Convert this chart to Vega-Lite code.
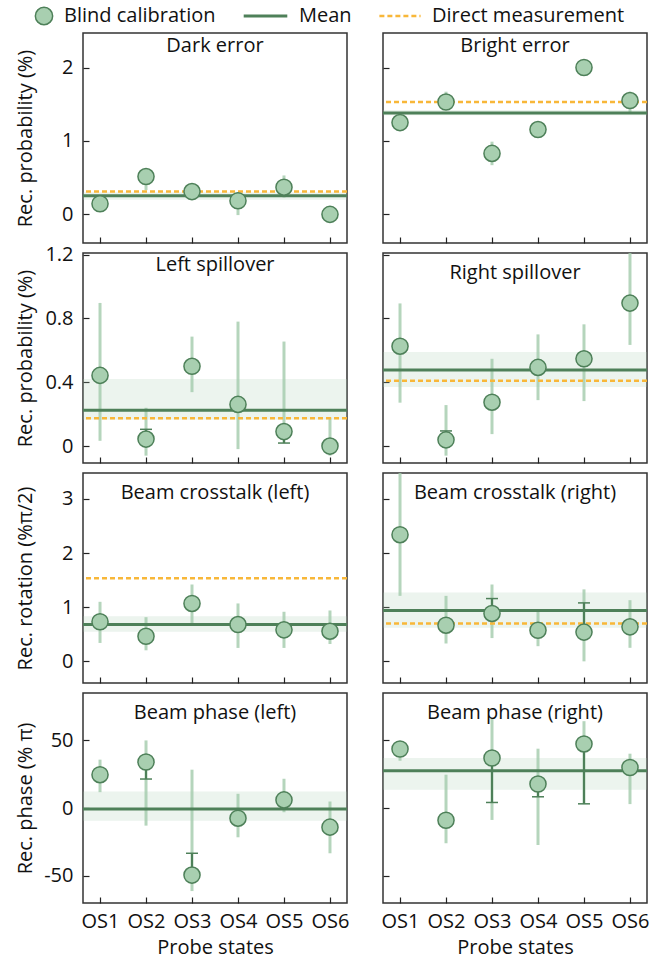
{
  "$schema": "https://vega.github.io/schema/vega-lite/v6.json",
  "padding": {"left": 14, "top": 4, "right": 1, "bottom": 0},
  "bounds": "flush",
  "config": {
    "font": "Open Sans",
    "view": {"stroke": "#333333", "strokeWidth": 1.5},
    "axis": {"domain": false, "grid": false, "tickColor": "#222222", "tickSize": -6, "tickWidth": 1.2, "labelFontSize": 20, "titleFontSize": 20, "titleFontWeight": "normal", "labelColor": "#111111", "titleColor": "#111111", "labelFont": "Open Sans", "titleFont": "Open Sans"},
    "title": {"fontSize": 20, "fontWeight": "normal", "font": "Open Sans", "offset": -30, "anchor": "middle", "color": "#111111"},
    "legend": {"labelFontSize": 20, "labelFont": "Open Sans", "labelColor": "#111111", "orient": "top", "title": null, "offset": 4, "labelOffset": 10, "padding": 0, "clipHeight": 24, "labelLimit": 320, "symbolOpacity": 1, "layout": {"top": {"anchor": "middle", "direction": "horizontal", "center": true, "margin": 26}}}
  },
  "datasets": {
    "pts": [
      {"p": "DE", "s": "OS1", "v": 0.145, "lo": 0.08, "hi": 0.2, "d": null},
      {"p": "DE", "s": "OS2", "v": 0.515, "lo": 0.33, "hi": 0.6, "d": null},
      {"p": "DE", "s": "OS3", "v": 0.31, "lo": 0.25, "hi": 0.37, "d": null},
      {"p": "DE", "s": "OS4", "v": 0.185, "lo": -0.01, "hi": 0.3, "d": null},
      {"p": "DE", "s": "OS5", "v": 0.37, "lo": 0.23, "hi": 0.53, "d": null},
      {"p": "DE", "s": "OS6", "v": 0.0, "lo": -0.05, "hi": 0.08, "d": null},
      {"p": "BE", "s": "OS1", "v": 1.25, "lo": 1.15, "hi": 1.35, "d": null},
      {"p": "BE", "s": "OS2", "v": 1.53, "lo": 1.45, "hi": 1.67, "d": null},
      {"p": "BE", "s": "OS3", "v": 0.83, "lo": 0.67, "hi": 0.99, "d": null},
      {"p": "BE", "s": "OS4", "v": 1.155, "lo": 1.08, "hi": 1.23, "d": null},
      {"p": "BE", "s": "OS5", "v": 2.0, "lo": 1.93, "hi": 2.07, "d": null},
      {"p": "BE", "s": "OS6", "v": 1.55, "lo": 1.38, "hi": 1.67, "d": null},
      {"p": "LS", "s": "OS1", "v": 0.443, "lo": 0.033, "hi": 0.897, "d": null},
      {"p": "LS", "s": "OS2", "v": 0.044, "lo": -0.06, "hi": 0.24, "d": 0.105},
      {"p": "LS", "s": "OS3", "v": 0.5, "lo": 0.338, "hi": 0.686, "d": null},
      {"p": "LS", "s": "OS4", "v": 0.261, "lo": -0.019, "hi": 0.78, "d": null},
      {"p": "LS", "s": "OS5", "v": 0.091, "lo": 0.019, "hi": 0.655, "d": 0.019},
      {"p": "LS", "s": "OS6", "v": 0.0, "lo": -0.06, "hi": 0.18, "d": null},
      {"p": "RS", "s": "OS1", "v": 0.626, "lo": 0.272, "hi": 0.894, "d": null},
      {"p": "RS", "s": "OS2", "v": 0.039, "lo": -0.06, "hi": 0.257, "d": 0.095},
      {"p": "RS", "s": "OS3", "v": 0.275, "lo": 0.075, "hi": 0.547, "d": null},
      {"p": "RS", "s": "OS4", "v": 0.493, "lo": 0.288, "hi": 0.7, "d": null},
      {"p": "RS", "s": "OS5", "v": 0.547, "lo": 0.282, "hi": 0.763, "d": null},
      {"p": "RS", "s": "OS6", "v": 0.896, "lo": 0.634, "hi": 1.3, "d": null},
      {"p": "CL", "s": "OS1", "v": 0.731, "lo": 0.34, "hi": 1.1, "d": null},
      {"p": "CL", "s": "OS2", "v": 0.464, "lo": 0.204, "hi": 0.816, "d": null},
      {"p": "CL", "s": "OS3", "v": 1.07, "lo": 0.66, "hi": 1.42, "d": null},
      {"p": "CL", "s": "OS4", "v": 0.68, "lo": 0.248, "hi": 1.07, "d": null},
      {"p": "CL", "s": "OS5", "v": 0.582, "lo": 0.248, "hi": 0.916, "d": null},
      {"p": "CL", "s": "OS6", "v": 0.557, "lo": 0.32, "hi": 0.94, "d": null},
      {"p": "CR", "s": "OS1", "v": 2.34, "lo": 1.21, "hi": 3.6, "d": null},
      {"p": "CR", "s": "OS2", "v": 0.668, "lo": 0.33, "hi": 1.21, "d": null},
      {"p": "CR", "s": "OS3", "v": 0.885, "lo": 0.43, "hi": 1.42, "d": 1.16},
      {"p": "CR", "s": "OS4", "v": 0.575, "lo": 0.28, "hi": 0.928, "d": null},
      {"p": "CR", "s": "OS5", "v": 0.54, "lo": 0.0, "hi": 1.33, "d": 1.08},
      {"p": "CR", "s": "OS6", "v": 0.638, "lo": 0.25, "hi": 1.13, "d": null},
      {"p": "PL", "s": "OS1", "v": 24.7, "lo": 11.8, "hi": 35.8, "d": null},
      {"p": "PL", "s": "OS2", "v": 34.1, "lo": -12.9, "hi": 50, "d": 21.5},
      {"p": "PL", "s": "OS3", "v": -49.4, "lo": -61.2, "hi": 28.4, "d": -33.3},
      {"p": "PL", "s": "OS4", "v": -7.4, "lo": -21.5, "hi": 10.6, "d": null},
      {"p": "PL", "s": "OS5", "v": 6.1, "lo": -3, "hi": 21.7, "d": null},
      {"p": "PL", "s": "OS6", "v": -14, "lo": -33.3, "hi": 4.9, "d": null},
      {"p": "PR", "s": "OS1", "v": 43.7, "lo": 35, "hi": 49.3, "d": null},
      {"p": "PR", "s": "OS2", "v": -8.9, "lo": -25.9, "hi": 24.7, "d": null},
      {"p": "PR", "s": "OS3", "v": 37, "lo": -8.7, "hi": 66.7, "d": 4.2},
      {"p": "PR", "s": "OS4", "v": 17.8, "lo": -27.2, "hi": 43.9, "d": 8.4},
      {"p": "PR", "s": "OS5", "v": 47.4, "lo": 3, "hi": 64.2, "d": 3.2},
      {"p": "PR", "s": "OS6", "v": 30, "lo": 3, "hi": 40.2, "d": null}
    ],
    "lines": [
      {"p": "DE", "mean": 0.255, "blo": 0.2, "bhi": 0.3, "direct": 0.31},
      {"p": "BE", "mean": 1.38, "blo": 1.35, "bhi": 1.42, "direct": 1.53},
      {"p": "LS", "mean": 0.224, "blo": 0.165, "bhi": 0.421, "direct": 0.174},
      {"p": "RS", "mean": 0.477, "blo": 0.37, "bhi": 0.589, "direct": 0.41},
      {"p": "CL", "mean": 0.68, "blo": 0.545, "bhi": 0.835, "direct": 1.535},
      {"p": "CR", "mean": 0.94, "blo": 0.62, "bhi": 1.27, "direct": 0.7},
      {"p": "PL", "mean": -0.7, "blo": -9.2, "bhi": 12.3, "direct": null},
      {"p": "PR", "mean": 27.6, "blo": 13.6, "bhi": 37, "direct": null}
    ]
  },
  "columns": 2,
  "spacing": {"row": 10, "column": 36},
  "resolve": {"scale": {"x": "independent", "y": "independent", "fill": "shared", "stroke": "shared", "strokeDash": "shared"}},
  "concat": [
    {
      "title": {"text": "Dark error", "offset": -22.5}, "width": 264, "height": 210,
      "layer": [
        {"data": {"name": "lines"}, "transform": [{"filter": "datum.p == 'DE'"}], "mark": {"type": "rect", "opacity": 0.22}, "encoding": {"y": {"field": "blo", "type": "quantitative", "scale": {"domain": [-0.39, 2.47], "nice": false, "zero": false}, "axis": {"values": [0, 1, 2], "labelExpr": "'' + datum.value", "labelPadding": 16, "minExtent": 40, "maxExtent": 40, "title": "Rec. probability (%)", "titlePadding": 8}}, "y2": {"field": "bhi"}, "fill": {"datum": "Blind calibration", "type": "nominal", "scale": {"domain": ["Blind calibration"], "range": ["#a8cfb0"]}, "legend": {"symbolType": "circle", "symbolStrokeColor": "#4e8059", "symbolStrokeWidth": 1.5, "symbolSize": 300, "symbolOpacity": 1}}}},
        {"data": {"name": "pts"}, "transform": [{"filter": "datum.p == 'DE'"}], "mark": {"type": "rule", "color": "#a3cbab", "strokeWidth": 3, "opacity": 0.8, "clip": true}, "encoding": {"x": {"field": "s", "type": "ordinal", "scale": {"type": "point", "padding": 0.37}, "axis": {"labels": false, "title": null}}, "y": {"field": "lo", "type": "quantitative", "scale": {"domain": [-0.39, 2.47], "nice": false, "zero": false}, "axis": {"values": [0, 1, 2], "labelExpr": "'' + datum.value", "labelPadding": 16, "minExtent": 40, "maxExtent": 40, "title": "Rec. probability (%)", "titlePadding": 8}}, "y2": {"field": "hi"}}},
        {"data": {"name": "lines"}, "transform": [{"filter": "datum.p == 'DE'"}], "mark": {"type": "rule", "strokeWidth": 3}, "encoding": {"y": {"field": "mean", "type": "quantitative", "scale": {"domain": [-0.39, 2.47], "nice": false, "zero": false}, "axis": {"values": [0, 1, 2], "labelExpr": "'' + datum.value", "labelPadding": 16, "minExtent": 40, "maxExtent": 40, "title": "Rec. probability (%)", "titlePadding": 8}}, "stroke": {"datum": "Mean", "type": "nominal", "scale": {"domain": ["Mean"], "range": ["#4e8059"]}, "legend": {"symbolType": "stroke", "symbolStrokeWidth": 3, "symbolSize": 1900}}}},
        {"data": {"name": "lines"}, "transform": [{"filter": "datum.p == 'DE'"}], "mark": {"type": "rule", "color": "#f8b739", "strokeWidth": 2.5}, "encoding": {"y": {"field": "direct", "type": "quantitative", "scale": {"domain": [-0.39, 2.47], "nice": false, "zero": false}, "axis": {"values": [0, 1, 2], "labelExpr": "'' + datum.value", "labelPadding": 16, "minExtent": 40, "maxExtent": 40, "title": "Rec. probability (%)", "titlePadding": 8}}, "strokeDash": {"datum": "Direct  measurement", "type": "nominal", "scale": {"domain": ["Direct  measurement"], "range": [[5, 3]]}, "legend": {"symbolType": "stroke", "symbolStrokeColor": "#f8b739", "symbolStrokeWidth": 2.5, "symbolSize": 1700}}}},
        {"data": {"name": "pts"}, "transform": [{"filter": "datum.p == 'DE'"}], "mark": {"type": "circle", "size": 260, "stroke": "#4e8059", "strokeWidth": 1.5, "opacity": 1}, "encoding": {"x": {"field": "s", "type": "ordinal", "scale": {"type": "point", "padding": 0.37}, "axis": {"labels": false, "title": null}}, "y": {"field": "v", "type": "quantitative", "scale": {"domain": [-0.39, 2.47], "nice": false, "zero": false}, "axis": {"values": [0, 1, 2], "labelExpr": "'' + datum.value", "labelPadding": 16, "minExtent": 40, "maxExtent": 40, "title": "Rec. probability (%)", "titlePadding": 8}}, "fill": {"datum": "Blind calibration", "type": "nominal", "scale": {"domain": ["Blind calibration"], "range": ["#a8cfb0"]}, "legend": {"symbolType": "circle", "symbolStrokeColor": "#4e8059", "symbolStrokeWidth": 1.5, "symbolSize": 300, "symbolOpacity": 1}}}}
      ]
    },
    {
      "title": {"text": "Bright error", "offset": -22.5}, "width": 264, "height": 210,
      "layer": [
        {"data": {"name": "lines"}, "transform": [{"filter": "datum.p == 'BE'"}], "mark": {"type": "rect", "opacity": 0.22}, "encoding": {"y": {"field": "blo", "type": "quantitative", "scale": {"domain": [-0.39, 2.47], "nice": false, "zero": false}, "axis": {"values": [0, 1, 2], "labels": false, "title": null}}, "y2": {"field": "bhi"}, "fill": {"datum": "Blind calibration", "type": "nominal", "scale": {"domain": ["Blind calibration"], "range": ["#a8cfb0"]}, "legend": {"symbolType": "circle", "symbolStrokeColor": "#4e8059", "symbolStrokeWidth": 1.5, "symbolSize": 300, "symbolOpacity": 1}}}},
        {"data": {"name": "pts"}, "transform": [{"filter": "datum.p == 'BE'"}], "mark": {"type": "rule", "color": "#a3cbab", "strokeWidth": 3, "opacity": 0.8, "clip": true}, "encoding": {"x": {"field": "s", "type": "ordinal", "scale": {"type": "point", "padding": 0.37}, "axis": {"labels": false, "title": null}}, "y": {"field": "lo", "type": "quantitative", "scale": {"domain": [-0.39, 2.47], "nice": false, "zero": false}, "axis": {"values": [0, 1, 2], "labels": false, "title": null}}, "y2": {"field": "hi"}}},
        {"data": {"name": "lines"}, "transform": [{"filter": "datum.p == 'BE'"}], "mark": {"type": "rule", "strokeWidth": 3}, "encoding": {"y": {"field": "mean", "type": "quantitative", "scale": {"domain": [-0.39, 2.47], "nice": false, "zero": false}, "axis": {"values": [0, 1, 2], "labels": false, "title": null}}, "stroke": {"datum": "Mean", "type": "nominal", "scale": {"domain": ["Mean"], "range": ["#4e8059"]}, "legend": {"symbolType": "stroke", "symbolStrokeWidth": 3, "symbolSize": 1900}}}},
        {"data": {"name": "lines"}, "transform": [{"filter": "datum.p == 'BE'"}], "mark": {"type": "rule", "color": "#f8b739", "strokeWidth": 2.5}, "encoding": {"y": {"field": "direct", "type": "quantitative", "scale": {"domain": [-0.39, 2.47], "nice": false, "zero": false}, "axis": {"values": [0, 1, 2], "labels": false, "title": null}}, "strokeDash": {"datum": "Direct  measurement", "type": "nominal", "scale": {"domain": ["Direct  measurement"], "range": [[5, 3]]}, "legend": {"symbolType": "stroke", "symbolStrokeColor": "#f8b739", "symbolStrokeWidth": 2.5, "symbolSize": 1700}}}},
        {"data": {"name": "pts"}, "transform": [{"filter": "datum.p == 'BE'"}], "mark": {"type": "circle", "size": 260, "stroke": "#4e8059", "strokeWidth": 1.5, "opacity": 1}, "encoding": {"x": {"field": "s", "type": "ordinal", "scale": {"type": "point", "padding": 0.37}, "axis": {"labels": false, "title": null}}, "y": {"field": "v", "type": "quantitative", "scale": {"domain": [-0.39, 2.47], "nice": false, "zero": false}, "axis": {"values": [0, 1, 2], "labels": false, "title": null}}, "fill": {"datum": "Blind calibration", "type": "nominal", "scale": {"domain": ["Blind calibration"], "range": ["#a8cfb0"]}, "legend": {"symbolType": "circle", "symbolStrokeColor": "#4e8059", "symbolStrokeWidth": 1.5, "symbolSize": 300, "symbolOpacity": 1}}}}
      ]
    },
    {
      "title": {"text": "Left spillover", "offset": -30}, "width": 264, "height": 210,
      "layer": [
        {"data": {"name": "lines"}, "transform": [{"filter": "datum.p == 'LS'"}], "mark": {"type": "rect", "opacity": 0.22}, "encoding": {"y": {"field": "blo", "type": "quantitative", "scale": {"domain": [-0.106, 1.21], "nice": false, "zero": false}, "axis": {"values": [0, 0.4, 0.8, 1.2], "labelExpr": "'' + datum.value", "labelPadding": 16, "minExtent": 40, "maxExtent": 40, "title": "Rec. probability (%)", "titlePadding": 8}}, "y2": {"field": "bhi"}, "fill": {"datum": "Blind calibration", "type": "nominal", "scale": {"domain": ["Blind calibration"], "range": ["#a8cfb0"]}, "legend": {"symbolType": "circle", "symbolStrokeColor": "#4e8059", "symbolStrokeWidth": 1.5, "symbolSize": 300, "symbolOpacity": 1}}}},
        {"data": {"name": "pts"}, "transform": [{"filter": "datum.p == 'LS'"}], "mark": {"type": "rule", "color": "#a3cbab", "strokeWidth": 3, "opacity": 0.8, "clip": true}, "encoding": {"x": {"field": "s", "type": "ordinal", "scale": {"type": "point", "padding": 0.37}, "axis": {"labels": false, "title": null}}, "y": {"field": "lo", "type": "quantitative", "scale": {"domain": [-0.106, 1.21], "nice": false, "zero": false}, "axis": {"values": [0, 0.4, 0.8, 1.2], "labelExpr": "'' + datum.value", "labelPadding": 16, "minExtent": 40, "maxExtent": 40, "title": "Rec. probability (%)", "titlePadding": 8}}, "y2": {"field": "hi"}}},
        {"data": {"name": "lines"}, "transform": [{"filter": "datum.p == 'LS'"}], "mark": {"type": "rule", "strokeWidth": 3}, "encoding": {"y": {"field": "mean", "type": "quantitative", "scale": {"domain": [-0.106, 1.21], "nice": false, "zero": false}, "axis": {"values": [0, 0.4, 0.8, 1.2], "labelExpr": "'' + datum.value", "labelPadding": 16, "minExtent": 40, "maxExtent": 40, "title": "Rec. probability (%)", "titlePadding": 8}}, "stroke": {"datum": "Mean", "type": "nominal", "scale": {"domain": ["Mean"], "range": ["#4e8059"]}, "legend": {"symbolType": "stroke", "symbolStrokeWidth": 3, "symbolSize": 1900}}}},
        {"data": {"name": "lines"}, "transform": [{"filter": "datum.p == 'LS'"}], "mark": {"type": "rule", "color": "#f8b739", "strokeWidth": 2.5}, "encoding": {"y": {"field": "direct", "type": "quantitative", "scale": {"domain": [-0.106, 1.21], "nice": false, "zero": false}, "axis": {"values": [0, 0.4, 0.8, 1.2], "labelExpr": "'' + datum.value", "labelPadding": 16, "minExtent": 40, "maxExtent": 40, "title": "Rec. probability (%)", "titlePadding": 8}}, "strokeDash": {"datum": "Direct  measurement", "type": "nominal", "scale": {"domain": ["Direct  measurement"], "range": [[5, 3]]}, "legend": {"symbolType": "stroke", "symbolStrokeColor": "#f8b739", "symbolStrokeWidth": 2.5, "symbolSize": 1700}}}},
        {"data": {"name": "pts"}, "transform": [{"filter": "datum.p == 'LS' && datum.d != null"}], "mark": {"type": "rule", "color": "#4e8059", "strokeWidth": 2}, "encoding": {"x": {"field": "s", "type": "ordinal", "scale": {"type": "point", "padding": 0.37}, "axis": {"labels": false, "title": null}}, "y": {"field": "v", "type": "quantitative", "scale": {"domain": [-0.106, 1.21], "nice": false, "zero": false}, "axis": {"values": [0, 0.4, 0.8, 1.2], "labelExpr": "'' + datum.value", "labelPadding": 16, "minExtent": 40, "maxExtent": 40, "title": "Rec. probability (%)", "titlePadding": 8}}, "y2": {"field": "d"}}},
        {"data": {"name": "pts"}, "transform": [{"filter": "datum.p == 'LS' && datum.d != null"}], "mark": {"type": "tick", "color": "#4e8059", "thickness": 1.5, "size": 12, "opacity": 1}, "encoding": {"x": {"field": "s", "type": "ordinal", "scale": {"type": "point", "padding": 0.37}, "axis": {"labels": false, "title": null}}, "y": {"field": "d", "type": "quantitative", "scale": {"domain": [-0.106, 1.21], "nice": false, "zero": false}, "axis": {"values": [0, 0.4, 0.8, 1.2], "labelExpr": "'' + datum.value", "labelPadding": 16, "minExtent": 40, "maxExtent": 40, "title": "Rec. probability (%)", "titlePadding": 8}}}},
        {"data": {"name": "pts"}, "transform": [{"filter": "datum.p == 'LS'"}], "mark": {"type": "circle", "size": 260, "stroke": "#4e8059", "strokeWidth": 1.5, "opacity": 1}, "encoding": {"x": {"field": "s", "type": "ordinal", "scale": {"type": "point", "padding": 0.37}, "axis": {"labels": false, "title": null}}, "y": {"field": "v", "type": "quantitative", "scale": {"domain": [-0.106, 1.21], "nice": false, "zero": false}, "axis": {"values": [0, 0.4, 0.8, 1.2], "labelExpr": "'' + datum.value", "labelPadding": 16, "minExtent": 40, "maxExtent": 40, "title": "Rec. probability (%)", "titlePadding": 8}}, "fill": {"datum": "Blind calibration", "type": "nominal", "scale": {"domain": ["Blind calibration"], "range": ["#a8cfb0"]}, "legend": {"symbolType": "circle", "symbolStrokeColor": "#4e8059", "symbolStrokeWidth": 1.5, "symbolSize": 300, "symbolOpacity": 1}}}}
      ]
    },
    {
      "title": {"text": "Right spillover", "offset": -30}, "width": 264, "height": 210,
      "layer": [
        {"data": {"name": "lines"}, "transform": [{"filter": "datum.p == 'RS'"}], "mark": {"type": "rect", "opacity": 0.22}, "encoding": {"y": {"field": "blo", "type": "quantitative", "scale": {"domain": [-0.106, 1.21], "nice": false, "zero": false}, "axis": {"values": [0, 0.4, 0.8, 1.2], "labels": false, "title": null}}, "y2": {"field": "bhi"}, "fill": {"datum": "Blind calibration", "type": "nominal", "scale": {"domain": ["Blind calibration"], "range": ["#a8cfb0"]}, "legend": {"symbolType": "circle", "symbolStrokeColor": "#4e8059", "symbolStrokeWidth": 1.5, "symbolSize": 300, "symbolOpacity": 1}}}},
        {"data": {"name": "pts"}, "transform": [{"filter": "datum.p == 'RS'"}], "mark": {"type": "rule", "color": "#a3cbab", "strokeWidth": 3, "opacity": 0.8, "clip": true}, "encoding": {"x": {"field": "s", "type": "ordinal", "scale": {"type": "point", "padding": 0.37}, "axis": {"labels": false, "title": null}}, "y": {"field": "lo", "type": "quantitative", "scale": {"domain": [-0.106, 1.21], "nice": false, "zero": false}, "axis": {"values": [0, 0.4, 0.8, 1.2], "labels": false, "title": null}}, "y2": {"field": "hi"}}},
        {"data": {"name": "lines"}, "transform": [{"filter": "datum.p == 'RS'"}], "mark": {"type": "rule", "strokeWidth": 3}, "encoding": {"y": {"field": "mean", "type": "quantitative", "scale": {"domain": [-0.106, 1.21], "nice": false, "zero": false}, "axis": {"values": [0, 0.4, 0.8, 1.2], "labels": false, "title": null}}, "stroke": {"datum": "Mean", "type": "nominal", "scale": {"domain": ["Mean"], "range": ["#4e8059"]}, "legend": {"symbolType": "stroke", "symbolStrokeWidth": 3, "symbolSize": 1900}}}},
        {"data": {"name": "lines"}, "transform": [{"filter": "datum.p == 'RS'"}], "mark": {"type": "rule", "color": "#f8b739", "strokeWidth": 2.5}, "encoding": {"y": {"field": "direct", "type": "quantitative", "scale": {"domain": [-0.106, 1.21], "nice": false, "zero": false}, "axis": {"values": [0, 0.4, 0.8, 1.2], "labels": false, "title": null}}, "strokeDash": {"datum": "Direct  measurement", "type": "nominal", "scale": {"domain": ["Direct  measurement"], "range": [[5, 3]]}, "legend": {"symbolType": "stroke", "symbolStrokeColor": "#f8b739", "symbolStrokeWidth": 2.5, "symbolSize": 1700}}}},
        {"data": {"name": "pts"}, "transform": [{"filter": "datum.p == 'RS' && datum.d != null"}], "mark": {"type": "rule", "color": "#4e8059", "strokeWidth": 2}, "encoding": {"x": {"field": "s", "type": "ordinal", "scale": {"type": "point", "padding": 0.37}, "axis": {"labels": false, "title": null}}, "y": {"field": "v", "type": "quantitative", "scale": {"domain": [-0.106, 1.21], "nice": false, "zero": false}, "axis": {"values": [0, 0.4, 0.8, 1.2], "labels": false, "title": null}}, "y2": {"field": "d"}}},
        {"data": {"name": "pts"}, "transform": [{"filter": "datum.p == 'RS' && datum.d != null"}], "mark": {"type": "tick", "color": "#4e8059", "thickness": 1.5, "size": 12, "opacity": 1}, "encoding": {"x": {"field": "s", "type": "ordinal", "scale": {"type": "point", "padding": 0.37}, "axis": {"labels": false, "title": null}}, "y": {"field": "d", "type": "quantitative", "scale": {"domain": [-0.106, 1.21], "nice": false, "zero": false}, "axis": {"values": [0, 0.4, 0.8, 1.2], "labels": false, "title": null}}}},
        {"data": {"name": "pts"}, "transform": [{"filter": "datum.p == 'RS'"}], "mark": {"type": "circle", "size": 260, "stroke": "#4e8059", "strokeWidth": 1.5, "opacity": 1}, "encoding": {"x": {"field": "s", "type": "ordinal", "scale": {"type": "point", "padding": 0.37}, "axis": {"labels": false, "title": null}}, "y": {"field": "v", "type": "quantitative", "scale": {"domain": [-0.106, 1.21], "nice": false, "zero": false}, "axis": {"values": [0, 0.4, 0.8, 1.2], "labels": false, "title": null}}, "fill": {"datum": "Blind calibration", "type": "nominal", "scale": {"domain": ["Blind calibration"], "range": ["#a8cfb0"]}, "legend": {"symbolType": "circle", "symbolStrokeColor": "#4e8059", "symbolStrokeWidth": 1.5, "symbolSize": 300, "symbolOpacity": 1}}}}
      ]
    },
    {
      "title": {"text": "Beam crosstalk (left)", "offset": -30}, "width": 264, "height": 210,
      "layer": [
        {"data": {"name": "lines"}, "transform": [{"filter": "datum.p == 'CL'"}], "mark": {"type": "rect", "opacity": 0.22}, "encoding": {"y": {"field": "blo", "type": "quantitative", "scale": {"domain": [-0.4, 3.48], "nice": false, "zero": false}, "axis": {"values": [0, 1, 2, 3], "labelExpr": "'' + datum.value", "labelPadding": 16, "minExtent": 40, "maxExtent": 40, "title": "Rec. rotation (%π/2)", "titlePadding": 8}}, "y2": {"field": "bhi"}, "fill": {"datum": "Blind calibration", "type": "nominal", "scale": {"domain": ["Blind calibration"], "range": ["#a8cfb0"]}, "legend": {"symbolType": "circle", "symbolStrokeColor": "#4e8059", "symbolStrokeWidth": 1.5, "symbolSize": 300, "symbolOpacity": 1}}}},
        {"data": {"name": "pts"}, "transform": [{"filter": "datum.p == 'CL'"}], "mark": {"type": "rule", "color": "#a3cbab", "strokeWidth": 3, "opacity": 0.8, "clip": true}, "encoding": {"x": {"field": "s", "type": "ordinal", "scale": {"type": "point", "padding": 0.37}, "axis": {"labels": false, "title": null}}, "y": {"field": "lo", "type": "quantitative", "scale": {"domain": [-0.4, 3.48], "nice": false, "zero": false}, "axis": {"values": [0, 1, 2, 3], "labelExpr": "'' + datum.value", "labelPadding": 16, "minExtent": 40, "maxExtent": 40, "title": "Rec. rotation (%π/2)", "titlePadding": 8}}, "y2": {"field": "hi"}}},
        {"data": {"name": "lines"}, "transform": [{"filter": "datum.p == 'CL'"}], "mark": {"type": "rule", "strokeWidth": 3}, "encoding": {"y": {"field": "mean", "type": "quantitative", "scale": {"domain": [-0.4, 3.48], "nice": false, "zero": false}, "axis": {"values": [0, 1, 2, 3], "labelExpr": "'' + datum.value", "labelPadding": 16, "minExtent": 40, "maxExtent": 40, "title": "Rec. rotation (%π/2)", "titlePadding": 8}}, "stroke": {"datum": "Mean", "type": "nominal", "scale": {"domain": ["Mean"], "range": ["#4e8059"]}, "legend": {"symbolType": "stroke", "symbolStrokeWidth": 3, "symbolSize": 1900}}}},
        {"data": {"name": "lines"}, "transform": [{"filter": "datum.p == 'CL'"}], "mark": {"type": "rule", "color": "#f8b739", "strokeWidth": 2.5}, "encoding": {"y": {"field": "direct", "type": "quantitative", "scale": {"domain": [-0.4, 3.48], "nice": false, "zero": false}, "axis": {"values": [0, 1, 2, 3], "labelExpr": "'' + datum.value", "labelPadding": 16, "minExtent": 40, "maxExtent": 40, "title": "Rec. rotation (%π/2)", "titlePadding": 8}}, "strokeDash": {"datum": "Direct  measurement", "type": "nominal", "scale": {"domain": ["Direct  measurement"], "range": [[5, 3]]}, "legend": {"symbolType": "stroke", "symbolStrokeColor": "#f8b739", "symbolStrokeWidth": 2.5, "symbolSize": 1700}}}},
        {"data": {"name": "pts"}, "transform": [{"filter": "datum.p == 'CL'"}], "mark": {"type": "circle", "size": 260, "stroke": "#4e8059", "strokeWidth": 1.5, "opacity": 1}, "encoding": {"x": {"field": "s", "type": "ordinal", "scale": {"type": "point", "padding": 0.37}, "axis": {"labels": false, "title": null}}, "y": {"field": "v", "type": "quantitative", "scale": {"domain": [-0.4, 3.48], "nice": false, "zero": false}, "axis": {"values": [0, 1, 2, 3], "labelExpr": "'' + datum.value", "labelPadding": 16, "minExtent": 40, "maxExtent": 40, "title": "Rec. rotation (%π/2)", "titlePadding": 8}}, "fill": {"datum": "Blind calibration", "type": "nominal", "scale": {"domain": ["Blind calibration"], "range": ["#a8cfb0"]}, "legend": {"symbolType": "circle", "symbolStrokeColor": "#4e8059", "symbolStrokeWidth": 1.5, "symbolSize": 300, "symbolOpacity": 1}}}}
      ]
    },
    {
      "title": {"text": "Beam crosstalk (right)", "offset": -30}, "width": 264, "height": 210,
      "layer": [
        {"data": {"name": "lines"}, "transform": [{"filter": "datum.p == 'CR'"}], "mark": {"type": "rect", "opacity": 0.22}, "encoding": {"y": {"field": "blo", "type": "quantitative", "scale": {"domain": [-0.4, 3.48], "nice": false, "zero": false}, "axis": {"values": [0, 1, 2, 3], "labels": false, "title": null}}, "y2": {"field": "bhi"}, "fill": {"datum": "Blind calibration", "type": "nominal", "scale": {"domain": ["Blind calibration"], "range": ["#a8cfb0"]}, "legend": {"symbolType": "circle", "symbolStrokeColor": "#4e8059", "symbolStrokeWidth": 1.5, "symbolSize": 300, "symbolOpacity": 1}}}},
        {"data": {"name": "pts"}, "transform": [{"filter": "datum.p == 'CR'"}], "mark": {"type": "rule", "color": "#a3cbab", "strokeWidth": 3, "opacity": 0.8, "clip": true}, "encoding": {"x": {"field": "s", "type": "ordinal", "scale": {"type": "point", "padding": 0.37}, "axis": {"labels": false, "title": null}}, "y": {"field": "lo", "type": "quantitative", "scale": {"domain": [-0.4, 3.48], "nice": false, "zero": false}, "axis": {"values": [0, 1, 2, 3], "labels": false, "title": null}}, "y2": {"field": "hi"}}},
        {"data": {"name": "lines"}, "transform": [{"filter": "datum.p == 'CR'"}], "mark": {"type": "rule", "strokeWidth": 3}, "encoding": {"y": {"field": "mean", "type": "quantitative", "scale": {"domain": [-0.4, 3.48], "nice": false, "zero": false}, "axis": {"values": [0, 1, 2, 3], "labels": false, "title": null}}, "stroke": {"datum": "Mean", "type": "nominal", "scale": {"domain": ["Mean"], "range": ["#4e8059"]}, "legend": {"symbolType": "stroke", "symbolStrokeWidth": 3, "symbolSize": 1900}}}},
        {"data": {"name": "lines"}, "transform": [{"filter": "datum.p == 'CR'"}], "mark": {"type": "rule", "color": "#f8b739", "strokeWidth": 2.5}, "encoding": {"y": {"field": "direct", "type": "quantitative", "scale": {"domain": [-0.4, 3.48], "nice": false, "zero": false}, "axis": {"values": [0, 1, 2, 3], "labels": false, "title": null}}, "strokeDash": {"datum": "Direct  measurement", "type": "nominal", "scale": {"domain": ["Direct  measurement"], "range": [[5, 3]]}, "legend": {"symbolType": "stroke", "symbolStrokeColor": "#f8b739", "symbolStrokeWidth": 2.5, "symbolSize": 1700}}}},
        {"data": {"name": "pts"}, "transform": [{"filter": "datum.p == 'CR' && datum.d != null"}], "mark": {"type": "rule", "color": "#4e8059", "strokeWidth": 2}, "encoding": {"x": {"field": "s", "type": "ordinal", "scale": {"type": "point", "padding": 0.37}, "axis": {"labels": false, "title": null}}, "y": {"field": "v", "type": "quantitative", "scale": {"domain": [-0.4, 3.48], "nice": false, "zero": false}, "axis": {"values": [0, 1, 2, 3], "labels": false, "title": null}}, "y2": {"field": "d"}}},
        {"data": {"name": "pts"}, "transform": [{"filter": "datum.p == 'CR' && datum.d != null"}], "mark": {"type": "tick", "color": "#4e8059", "thickness": 1.5, "size": 12, "opacity": 1}, "encoding": {"x": {"field": "s", "type": "ordinal", "scale": {"type": "point", "padding": 0.37}, "axis": {"labels": false, "title": null}}, "y": {"field": "d", "type": "quantitative", "scale": {"domain": [-0.4, 3.48], "nice": false, "zero": false}, "axis": {"values": [0, 1, 2, 3], "labels": false, "title": null}}}},
        {"data": {"name": "pts"}, "transform": [{"filter": "datum.p == 'CR'"}], "mark": {"type": "circle", "size": 260, "stroke": "#4e8059", "strokeWidth": 1.5, "opacity": 1}, "encoding": {"x": {"field": "s", "type": "ordinal", "scale": {"type": "point", "padding": 0.37}, "axis": {"labels": false, "title": null}}, "y": {"field": "v", "type": "quantitative", "scale": {"domain": [-0.4, 3.48], "nice": false, "zero": false}, "axis": {"values": [0, 1, 2, 3], "labels": false, "title": null}}, "fill": {"datum": "Blind calibration", "type": "nominal", "scale": {"domain": ["Blind calibration"], "range": ["#a8cfb0"]}, "legend": {"symbolType": "circle", "symbolStrokeColor": "#4e8059", "symbolStrokeWidth": 1.5, "symbolSize": 300, "symbolOpacity": 1}}}}
      ]
    },
    {
      "title": {"text": "Beam phase (left)", "offset": -30}, "width": 264, "height": 210,
      "layer": [
        {"data": {"name": "lines"}, "transform": [{"filter": "datum.p == 'PL'"}], "mark": {"type": "rect", "opacity": 0.22}, "encoding": {"y": {"field": "blo", "type": "quantitative", "scale": {"domain": [-70, 85], "nice": false, "zero": false}, "axis": {"values": [-50, 0, 50], "labelExpr": "'' + datum.value", "labelPadding": 16, "minExtent": 40, "maxExtent": 40, "title": "Rec.  phase (% π)", "titlePadding": 8}}, "y2": {"field": "bhi"}, "fill": {"datum": "Blind calibration", "type": "nominal", "scale": {"domain": ["Blind calibration"], "range": ["#a8cfb0"]}, "legend": {"symbolType": "circle", "symbolStrokeColor": "#4e8059", "symbolStrokeWidth": 1.5, "symbolSize": 300, "symbolOpacity": 1}}}},
        {"data": {"name": "pts"}, "transform": [{"filter": "datum.p == 'PL'"}], "mark": {"type": "rule", "color": "#a3cbab", "strokeWidth": 3, "opacity": 0.8, "clip": true}, "encoding": {"x": {"field": "s", "type": "ordinal", "scale": {"type": "point", "padding": 0.37}, "axis": {"labelAngle": 0, "labelPadding": 14, "title": "Probe states", "titlePadding": 6}}, "y": {"field": "lo", "type": "quantitative", "scale": {"domain": [-70, 85], "nice": false, "zero": false}, "axis": {"values": [-50, 0, 50], "labelExpr": "'' + datum.value", "labelPadding": 16, "minExtent": 40, "maxExtent": 40, "title": "Rec.  phase (% π)", "titlePadding": 8}}, "y2": {"field": "hi"}}},
        {"data": {"name": "lines"}, "transform": [{"filter": "datum.p == 'PL'"}], "mark": {"type": "rule", "strokeWidth": 3}, "encoding": {"y": {"field": "mean", "type": "quantitative", "scale": {"domain": [-70, 85], "nice": false, "zero": false}, "axis": {"values": [-50, 0, 50], "labelExpr": "'' + datum.value", "labelPadding": 16, "minExtent": 40, "maxExtent": 40, "title": "Rec.  phase (% π)", "titlePadding": 8}}, "stroke": {"datum": "Mean", "type": "nominal", "scale": {"domain": ["Mean"], "range": ["#4e8059"]}, "legend": {"symbolType": "stroke", "symbolStrokeWidth": 3, "symbolSize": 1900}}}},
        {"data": {"name": "pts"}, "transform": [{"filter": "datum.p == 'PL' && datum.d != null"}], "mark": {"type": "rule", "color": "#4e8059", "strokeWidth": 2}, "encoding": {"x": {"field": "s", "type": "ordinal", "scale": {"type": "point", "padding": 0.37}, "axis": {"labelAngle": 0, "labelPadding": 14, "title": "Probe states", "titlePadding": 6}}, "y": {"field": "v", "type": "quantitative", "scale": {"domain": [-70, 85], "nice": false, "zero": false}, "axis": {"values": [-50, 0, 50], "labelExpr": "'' + datum.value", "labelPadding": 16, "minExtent": 40, "maxExtent": 40, "title": "Rec.  phase (% π)", "titlePadding": 8}}, "y2": {"field": "d"}}},
        {"data": {"name": "pts"}, "transform": [{"filter": "datum.p == 'PL' && datum.d != null"}], "mark": {"type": "tick", "color": "#4e8059", "thickness": 1.5, "size": 12, "opacity": 1}, "encoding": {"x": {"field": "s", "type": "ordinal", "scale": {"type": "point", "padding": 0.37}, "axis": {"labelAngle": 0, "labelPadding": 14, "title": "Probe states", "titlePadding": 6}}, "y": {"field": "d", "type": "quantitative", "scale": {"domain": [-70, 85], "nice": false, "zero": false}, "axis": {"values": [-50, 0, 50], "labelExpr": "'' + datum.value", "labelPadding": 16, "minExtent": 40, "maxExtent": 40, "title": "Rec.  phase (% π)", "titlePadding": 8}}}},
        {"data": {"name": "pts"}, "transform": [{"filter": "datum.p == 'PL'"}], "mark": {"type": "circle", "size": 260, "stroke": "#4e8059", "strokeWidth": 1.5, "opacity": 1}, "encoding": {"x": {"field": "s", "type": "ordinal", "scale": {"type": "point", "padding": 0.37}, "axis": {"labelAngle": 0, "labelPadding": 14, "title": "Probe states", "titlePadding": 6}}, "y": {"field": "v", "type": "quantitative", "scale": {"domain": [-70, 85], "nice": false, "zero": false}, "axis": {"values": [-50, 0, 50], "labelExpr": "'' + datum.value", "labelPadding": 16, "minExtent": 40, "maxExtent": 40, "title": "Rec.  phase (% π)", "titlePadding": 8}}, "fill": {"datum": "Blind calibration", "type": "nominal", "scale": {"domain": ["Blind calibration"], "range": ["#a8cfb0"]}, "legend": {"symbolType": "circle", "symbolStrokeColor": "#4e8059", "symbolStrokeWidth": 1.5, "symbolSize": 300, "symbolOpacity": 1}}}}
      ]
    },
    {
      "title": {"text": "Beam phase (right)", "offset": -30}, "width": 264, "height": 210,
      "layer": [
        {"data": {"name": "lines"}, "transform": [{"filter": "datum.p == 'PR'"}], "mark": {"type": "rect", "opacity": 0.22}, "encoding": {"y": {"field": "blo", "type": "quantitative", "scale": {"domain": [-70, 85], "nice": false, "zero": false}, "axis": {"values": [-50, 0, 50], "labels": false, "title": null}}, "y2": {"field": "bhi"}, "fill": {"datum": "Blind calibration", "type": "nominal", "scale": {"domain": ["Blind calibration"], "range": ["#a8cfb0"]}, "legend": {"symbolType": "circle", "symbolStrokeColor": "#4e8059", "symbolStrokeWidth": 1.5, "symbolSize": 300, "symbolOpacity": 1}}}},
        {"data": {"name": "pts"}, "transform": [{"filter": "datum.p == 'PR'"}], "mark": {"type": "rule", "color": "#a3cbab", "strokeWidth": 3, "opacity": 0.8, "clip": true}, "encoding": {"x": {"field": "s", "type": "ordinal", "scale": {"type": "point", "padding": 0.37}, "axis": {"labelAngle": 0, "labelPadding": 14, "title": "Probe states", "titlePadding": 6}}, "y": {"field": "lo", "type": "quantitative", "scale": {"domain": [-70, 85], "nice": false, "zero": false}, "axis": {"values": [-50, 0, 50], "labels": false, "title": null}}, "y2": {"field": "hi"}}},
        {"data": {"name": "lines"}, "transform": [{"filter": "datum.p == 'PR'"}], "mark": {"type": "rule", "strokeWidth": 3}, "encoding": {"y": {"field": "mean", "type": "quantitative", "scale": {"domain": [-70, 85], "nice": false, "zero": false}, "axis": {"values": [-50, 0, 50], "labels": false, "title": null}}, "stroke": {"datum": "Mean", "type": "nominal", "scale": {"domain": ["Mean"], "range": ["#4e8059"]}, "legend": {"symbolType": "stroke", "symbolStrokeWidth": 3, "symbolSize": 1900}}}},
        {"data": {"name": "pts"}, "transform": [{"filter": "datum.p == 'PR' && datum.d != null"}], "mark": {"type": "rule", "color": "#4e8059", "strokeWidth": 2}, "encoding": {"x": {"field": "s", "type": "ordinal", "scale": {"type": "point", "padding": 0.37}, "axis": {"labelAngle": 0, "labelPadding": 14, "title": "Probe states", "titlePadding": 6}}, "y": {"field": "v", "type": "quantitative", "scale": {"domain": [-70, 85], "nice": false, "zero": false}, "axis": {"values": [-50, 0, 50], "labels": false, "title": null}}, "y2": {"field": "d"}}},
        {"data": {"name": "pts"}, "transform": [{"filter": "datum.p == 'PR' && datum.d != null"}], "mark": {"type": "tick", "color": "#4e8059", "thickness": 1.5, "size": 12, "opacity": 1}, "encoding": {"x": {"field": "s", "type": "ordinal", "scale": {"type": "point", "padding": 0.37}, "axis": {"labelAngle": 0, "labelPadding": 14, "title": "Probe states", "titlePadding": 6}}, "y": {"field": "d", "type": "quantitative", "scale": {"domain": [-70, 85], "nice": false, "zero": false}, "axis": {"values": [-50, 0, 50], "labels": false, "title": null}}}},
        {"data": {"name": "pts"}, "transform": [{"filter": "datum.p == 'PR'"}], "mark": {"type": "circle", "size": 260, "stroke": "#4e8059", "strokeWidth": 1.5, "opacity": 1}, "encoding": {"x": {"field": "s", "type": "ordinal", "scale": {"type": "point", "padding": 0.37}, "axis": {"labelAngle": 0, "labelPadding": 14, "title": "Probe states", "titlePadding": 6}}, "y": {"field": "v", "type": "quantitative", "scale": {"domain": [-70, 85], "nice": false, "zero": false}, "axis": {"values": [-50, 0, 50], "labels": false, "title": null}}, "fill": {"datum": "Blind calibration", "type": "nominal", "scale": {"domain": ["Blind calibration"], "range": ["#a8cfb0"]}, "legend": {"symbolType": "circle", "symbolStrokeColor": "#4e8059", "symbolStrokeWidth": 1.5, "symbolSize": 300, "symbolOpacity": 1}}}}
      ]
    }
  ]
}
